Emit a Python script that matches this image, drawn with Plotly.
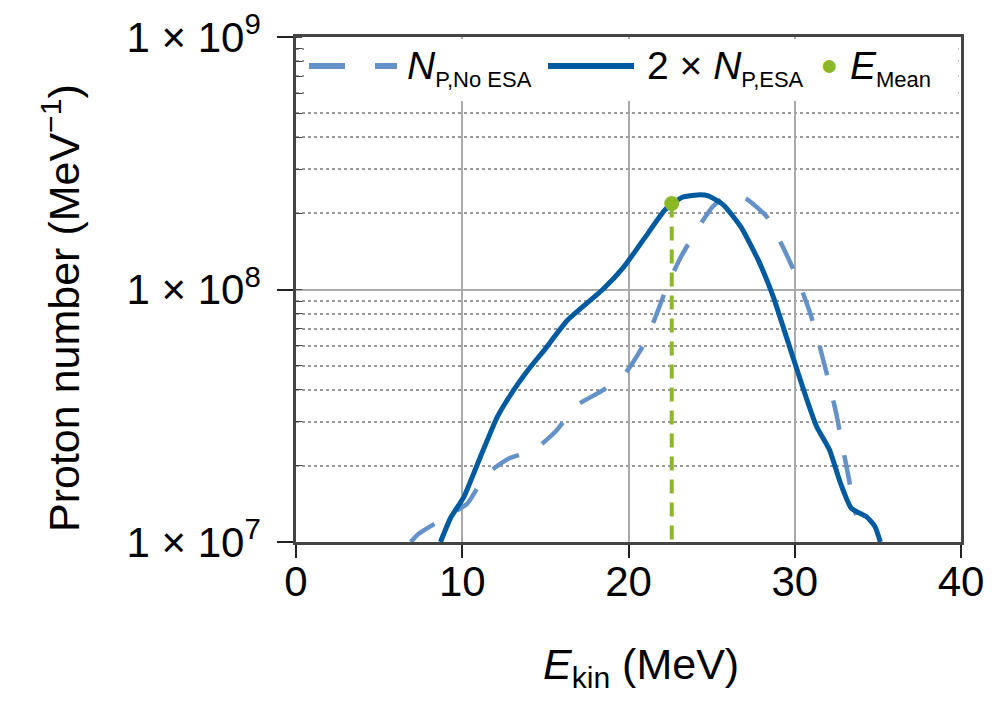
import plotly.graph_objects as go

# --- data ---
e_esa = [8.69, 9.31, 10.10, 11.10, 12.11, 13.10, 14.11, 14.91, 16.34, 18.42, 19.72, 21.03,
         22.2, 23.24, 24.15, 24.8, 25.72, 26.76, 27.8, 28.71, 29.36, 30.01, 30.67, 31.32,
         32.1, 32.75, 33.4, 34.31, 34.83, 35.15]
n_esa = [1.0e7, 1.25e7, 1.51e7, 2.18e7, 3.13e7, 4.0e7, 4.94e7, 5.73e7, 7.57e7, 9.95e7, 1.23e8, 1.62e8,
         2.07e8, 2.32e8, 2.37e8, 2.35e8, 2.16e8, 1.77e8, 1.31e8, 9.35e7, 6.92e7, 5.10e7, 3.76e7, 2.86e7,
         2.31e7, 1.71e7, 1.36e7, 1.26e7, 1.15e7, 1.0e7]

e_noesa = [6.9, 7.39, 8.69, 10.3, 11.4, 12.8, 14.31, 15.61, 16.92, 18.32, 19.72, 20.9, 21.55,
           22.33, 23.11, 24.03, 25.07, 25.72, 26.89, 28.32, 29.23, 30.15, 30.93, 31.45, 31.97,
           32.49, 32.88, 33.27, 33.53, 33.7]
n_noesa = [1.0e7, 1.08e7, 1.22e7, 1.42e7, 1.84e7, 2.14e7, 2.31e7, 2.74e7, 3.49e7, 3.94e7, 4.58e7, 6.03e7, 7.57e7,
           1.03e8, 1.33e8, 1.69e8, 2.13e8, 2.30e8, 2.33e8, 1.94e8, 1.50e8, 1.11e8, 8.05e7, 6.12e7, 4.52e7,
           3.24e7, 2.38e7, 1.76e7, 1.38e7, 1.28e7]

e_mean = 22.6
n_mean = 2.19e8

y_tickvals = [1e7, 1e8, 1e9]
y_ticktext = ["1 × 10<sup>7</sup>", "1 × 10<sup>8</sup>", "1 × 10<sup>9</sup>"]
x_tickvals = [0, 10, 20, 30, 40]

C_LIGHT = "rgb(100,145,200)"
C_DARK = "rgb(0,90,160)"
C_GREEN = "rgb(140,184,40)"
FONT = "Liberation Sans, Arial, Helvetica, sans-serif"

# figure geometry (page body adds an 8px offset)
W, H = 992, 698
ML, MT, PW, PH = 288, 29, 665, 505

fig = go.Figure()
fig.add_trace(go.Scatter(x=e_noesa, y=n_noesa, mode="lines", showlegend=False,
                         line=dict(color=C_LIGHT, width=4.5, dash="30px,26px", shape="spline", smoothing=0.5)))
fig.add_trace(go.Scatter(x=e_esa, y=n_esa, mode="lines", showlegend=False,
                         line=dict(color=C_DARK, width=5, shape="spline", smoothing=0.5)))
fig.add_trace(go.Scatter(x=[e_mean, e_mean], y=[n_mean, y_tickvals[0]], mode="lines", showlegend=False,
                         line=dict(color=C_GREEN, width=4, dash="14px,9px")))
fig.add_trace(go.Scatter(x=[e_mean], y=[n_mean], mode="markers", showlegend=False,
                         marker=dict(color=C_GREEN, size=15)))


def px_to_paper_x(px):
    return (px - 296.0) / PW


def px_to_paper_y(py):
    return (542.0 - py) / PH


# white legend band (covers grid at top of plot area)
fig.add_shape(type="rect", xref="paper", yref="paper", x0=0.012, x1=0.996,
              y0=px_to_paper_y(101), y1=0.996,
              fillcolor="white", line=dict(width=0), layer="above")

ly = px_to_paper_y(66)
# legend samples
fig.add_shape(type="line", xref="paper", yref="paper", x0=px_to_paper_x(309), x1=px_to_paper_x(397),
              y0=ly, y1=ly, line=dict(color=C_LIGHT, width=6, dash="36px,30px"), layer="above")
fig.add_shape(type="line", xref="paper", yref="paper", x0=px_to_paper_x(548), x1=px_to_paper_x(634),
              y0=ly, y1=ly, line=dict(color=C_DARK, width=6), layer="above")
fig.add_annotation(xref="paper", yref="paper", x=px_to_paper_x(829), y=px_to_paper_y(64), text="●",
                   showarrow=False, font=dict(size=30, color=C_GREEN, family=FONT),
                   xanchor="center", yanchor="middle")

leg_font = dict(size=39, color="black", family=FONT)
SUB = '<sub><span style="font-size:22px">%s</span></sub>'
fig.add_annotation(xref="paper", yref="paper", x=px_to_paper_x(405), y=px_to_paper_y(68),
                   text="<i>N</i>" + SUB % "P,No ESA", showarrow=False, font=leg_font,
                   xanchor="left", yanchor="middle")
fig.add_annotation(xref="paper", yref="paper", x=px_to_paper_x(645), y=px_to_paper_y(68),
                   text="2 × <i>N</i>" + SUB % "P,ESA", showarrow=False, font=leg_font,
                   xanchor="left", yanchor="middle")
fig.add_annotation(xref="paper", yref="paper", x=px_to_paper_x(848), y=px_to_paper_y(68),
                   text="<i>E</i>" + SUB % "Mean", showarrow=False, font=leg_font,
                   xanchor="left", yanchor="middle")

# axis titles
fig.add_annotation(xref="paper", yref="paper", x=px_to_paper_x(641), y=px_to_paper_y(667),
                   text="<i>E</i><sub>kin</sub> (MeV)", showarrow=False,
                   font=dict(size=43, color="black", family=FONT), xanchor="center", yanchor="middle")
fig.add_annotation(xref="paper", yref="paper", x=px_to_paper_x(61), y=px_to_paper_y(308),
                   text="Proton number (MeV<sup>−1</sup>)", showarrow=False, textangle=-90,
                   font=dict(size=43, color="black", family=FONT), xanchor="center", yanchor="middle")

fig.update_layout(
    width=W, height=H,
    margin=dict(l=ML, r=W - ML - PW, t=MT, b=H - MT - PH, autoexpand=False),
    paper_bgcolor="white", plot_bgcolor="white",
    font=dict(family=FONT, size=42, color="black"),
    showlegend=False,
)
fig.update_xaxes(
    range=[0, 40], tickvals=x_tickvals, ticks="outside", ticklen=13, tickwidth=1.5, tickcolor="#222",
    showline=True, linecolor="#444", linewidth=2.5, mirror=True, automargin=False,
    showgrid=True, gridcolor="#aaaaaa", gridwidth=1.5, zeroline=False,
    tickfont=dict(size=42), ticklabelstandoff=-12, ticklabeloverflow="allow",
)
fig.update_yaxes(
    type="log", range=[7, 9], tickvals=y_tickvals, ticktext=y_ticktext,
    ticks="outside", ticklen=16, tickwidth=1.5, tickcolor="#222",
    showline=True, linecolor="#444", linewidth=2.5, mirror=True, automargin=False,
    showgrid=True, gridcolor="#aaaaaa", gridwidth=1.5, zeroline=False,
    tickfont=dict(size=42), ticklabelstandoff=8, ticklabeloverflow="allow",
    minor=dict(dtick="D1", ticks="inside", ticklen=6, tickcolor="#444", tickwidth=1.2,
               showgrid=True, gridcolor="#999999", griddash="dot", gridwidth=1.5),
)

fig.write_html("out.html")
